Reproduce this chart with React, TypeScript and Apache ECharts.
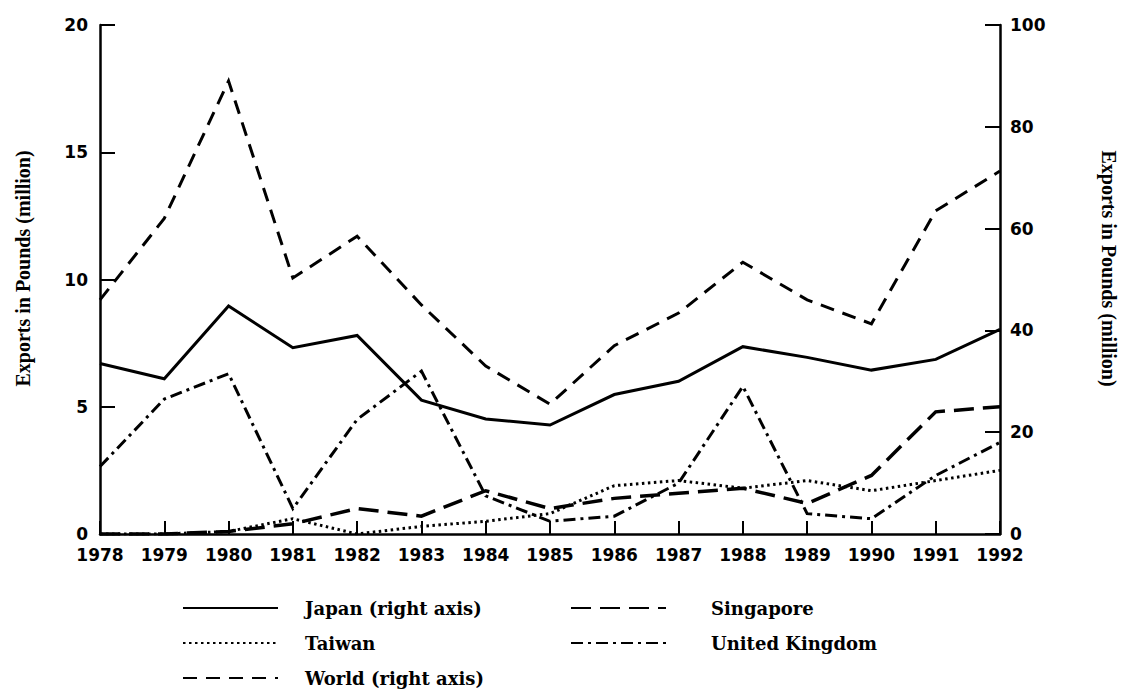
import React, { useEffect, useRef } from "react";
import * as echarts from "echarts";

const years = ["1978", "1979", "1980", "1981", "1982", "1983", "1984", "1985", "1986", "1987", "1988", "1989", "1990", "1991", "1992"];
// right axis series
const japan = [33.5, 30.5, 44.8, 36.6, 39.0, 26.3, 22.6, 21.4, 27.4, 30.0, 36.8, 34.7, 32.2, 34.3, 40.2];
const world = [46.0, 62.0, 89.0, 50.3, 58.5, 45.0, 33.0, 25.5, 37.0, 43.4, 53.4, 46.0, 41.3, 63.5, 71.3];
// left axis series
const singapore = [0.0, 0.0, 0.1, 0.4, 1.0, 0.7, 1.7, 1.0, 1.4, 1.6, 1.8, 1.2, 2.3, 4.8, 5.0];
const taiwan = [0.0, 0.0, 0.1, 0.6, 0.0, 0.3, 0.5, 0.8, 1.9, 2.1, 1.8, 2.1, 1.7, 2.1, 2.5];
const unitedKingdom = [2.65, 5.3, 6.3, 1.0, 4.5, 6.4, 1.5, 0.5, 0.7, 2.0, 5.8, 0.8, 0.6, 2.3, 3.6];

const leftTicks = { min: 0, max: 20, interval: 5 };
const rightTicks = { min: 0, max: 100, interval: 20 };

const TICK_FONT = { fontFamily: "DejaVu Sans", fontWeight: "bold" as const, fontSize: 17, color: "#000" };
const SERIF = { fontFamily: "Liberation Serif", fontWeight: "bold" as const, color: "#000" };
const LEGEND_FONT = { fontFamily: "DejaVu Serif", fontWeight: "bold" as const, color: "#000", fontSize: 18 };

export default function App() {
  const ref = useRef<HTMLDivElement>(null);
  useEffect(() => {
    if (!ref.current) return;
    const chart = echarts.init(ref.current, null, { renderer: "svg" });
    const axisLine = { show: true, lineStyle: { color: "#000", width: 2.5 } };
    const mk = (name: string, data: number[], yAxisIndex: number, type: any, width: number) => ({
      name,
      type: "line",
      data,
      yAxisIndex,
      symbol: "none",
      showSymbol: false,
      lineStyle: { color: "#000", width, type, cap: "butt", join: "miter" },
      itemStyle: { color: "#000" },
    });
    const leg = (name: string, left: number, top: number, gap: number) => ({
      data: [name],
      orient: "horizontal",
      left,
      top,
      itemWidth: 95,
      itemHeight: 14,
      itemStyle: { opacity: 0 },
      textStyle: { ...LEGEND_FONT, padding: [0, 0, 0, gap] },
    });
    chart.setOption({
      animation: false,
      backgroundColor: "#fff",
      grid: { left: 100, right: 122, top: 25, bottom: 160 },
      xAxis: {
        type: "category",
        data: years,
        boundaryGap: false,
        axisLine,
        axisTick: { show: true, inside: true, length: 13, lineStyle: { color: "#000", width: 2 } },
        axisLabel: { ...TICK_FONT, margin: 12, interval: 0 },
        splitLine: { show: false },
      },
      yAxis: [
        {
          type: "value",
          position: "left",
          ...leftTicks,
          axisLine,
          axisTick: { show: true, inside: true, length: 15, lineStyle: { color: "#000", width: 2 } },
          axisLabel: { ...TICK_FONT, margin: 12 },
          splitLine: { show: false },
          name: "Exports in Pounds (million)",
          nameLocation: "middle",
          nameGap: 67,
          nameTextStyle: { ...SERIF, fontSize: 20, padding: [0, 0, 0, 22] },
        },
        {
          type: "value",
          position: "right",
          ...rightTicks,
          axisLine,
          axisTick: { show: true, inside: true, length: 15, lineStyle: { color: "#000", width: 2 } },
          axisLabel: { ...TICK_FONT, margin: 10 },
          splitLine: { show: false },
          name: "Exports in Pounds (million)",
          nameLocation: "middle",
          nameGap: 99,
          nameRotate: -90,
          nameTextStyle: { ...SERIF, fontSize: 20, padding: [0, 22, 0, 0] },
        },
      ],
      legend: [
        leg("Japan (right axis)", 177, 594, 22),
        leg("Taiwan", 177, 629, 22),
        leg("World (right axis)", 177, 664, 22),
        leg("Singapore", 565, 594, 40),
        leg("United Kingdom", 565, 629, 40),
      ],
      series: [
        mk("Japan (right axis)", japan, 1, "solid", 3),
        mk("Singapore", singapore, 0, [20, 9], 3.5),
        mk("Taiwan", taiwan, 0, [2.5, 3.5], 3),
        mk("United Kingdom", unitedKingdom, 0, [12, 5, 3, 5], 3),
        mk("World (right axis)", world, 1, [14, 9], 3),
      ],
    });
    return () => chart.dispose();
  }, []);
  return (
    <div
      ref={ref}
      style={{ position: "fixed", left: 0, top: 0, width: 1127, height: 694, background: "#fff" }}
    />
  );
}
